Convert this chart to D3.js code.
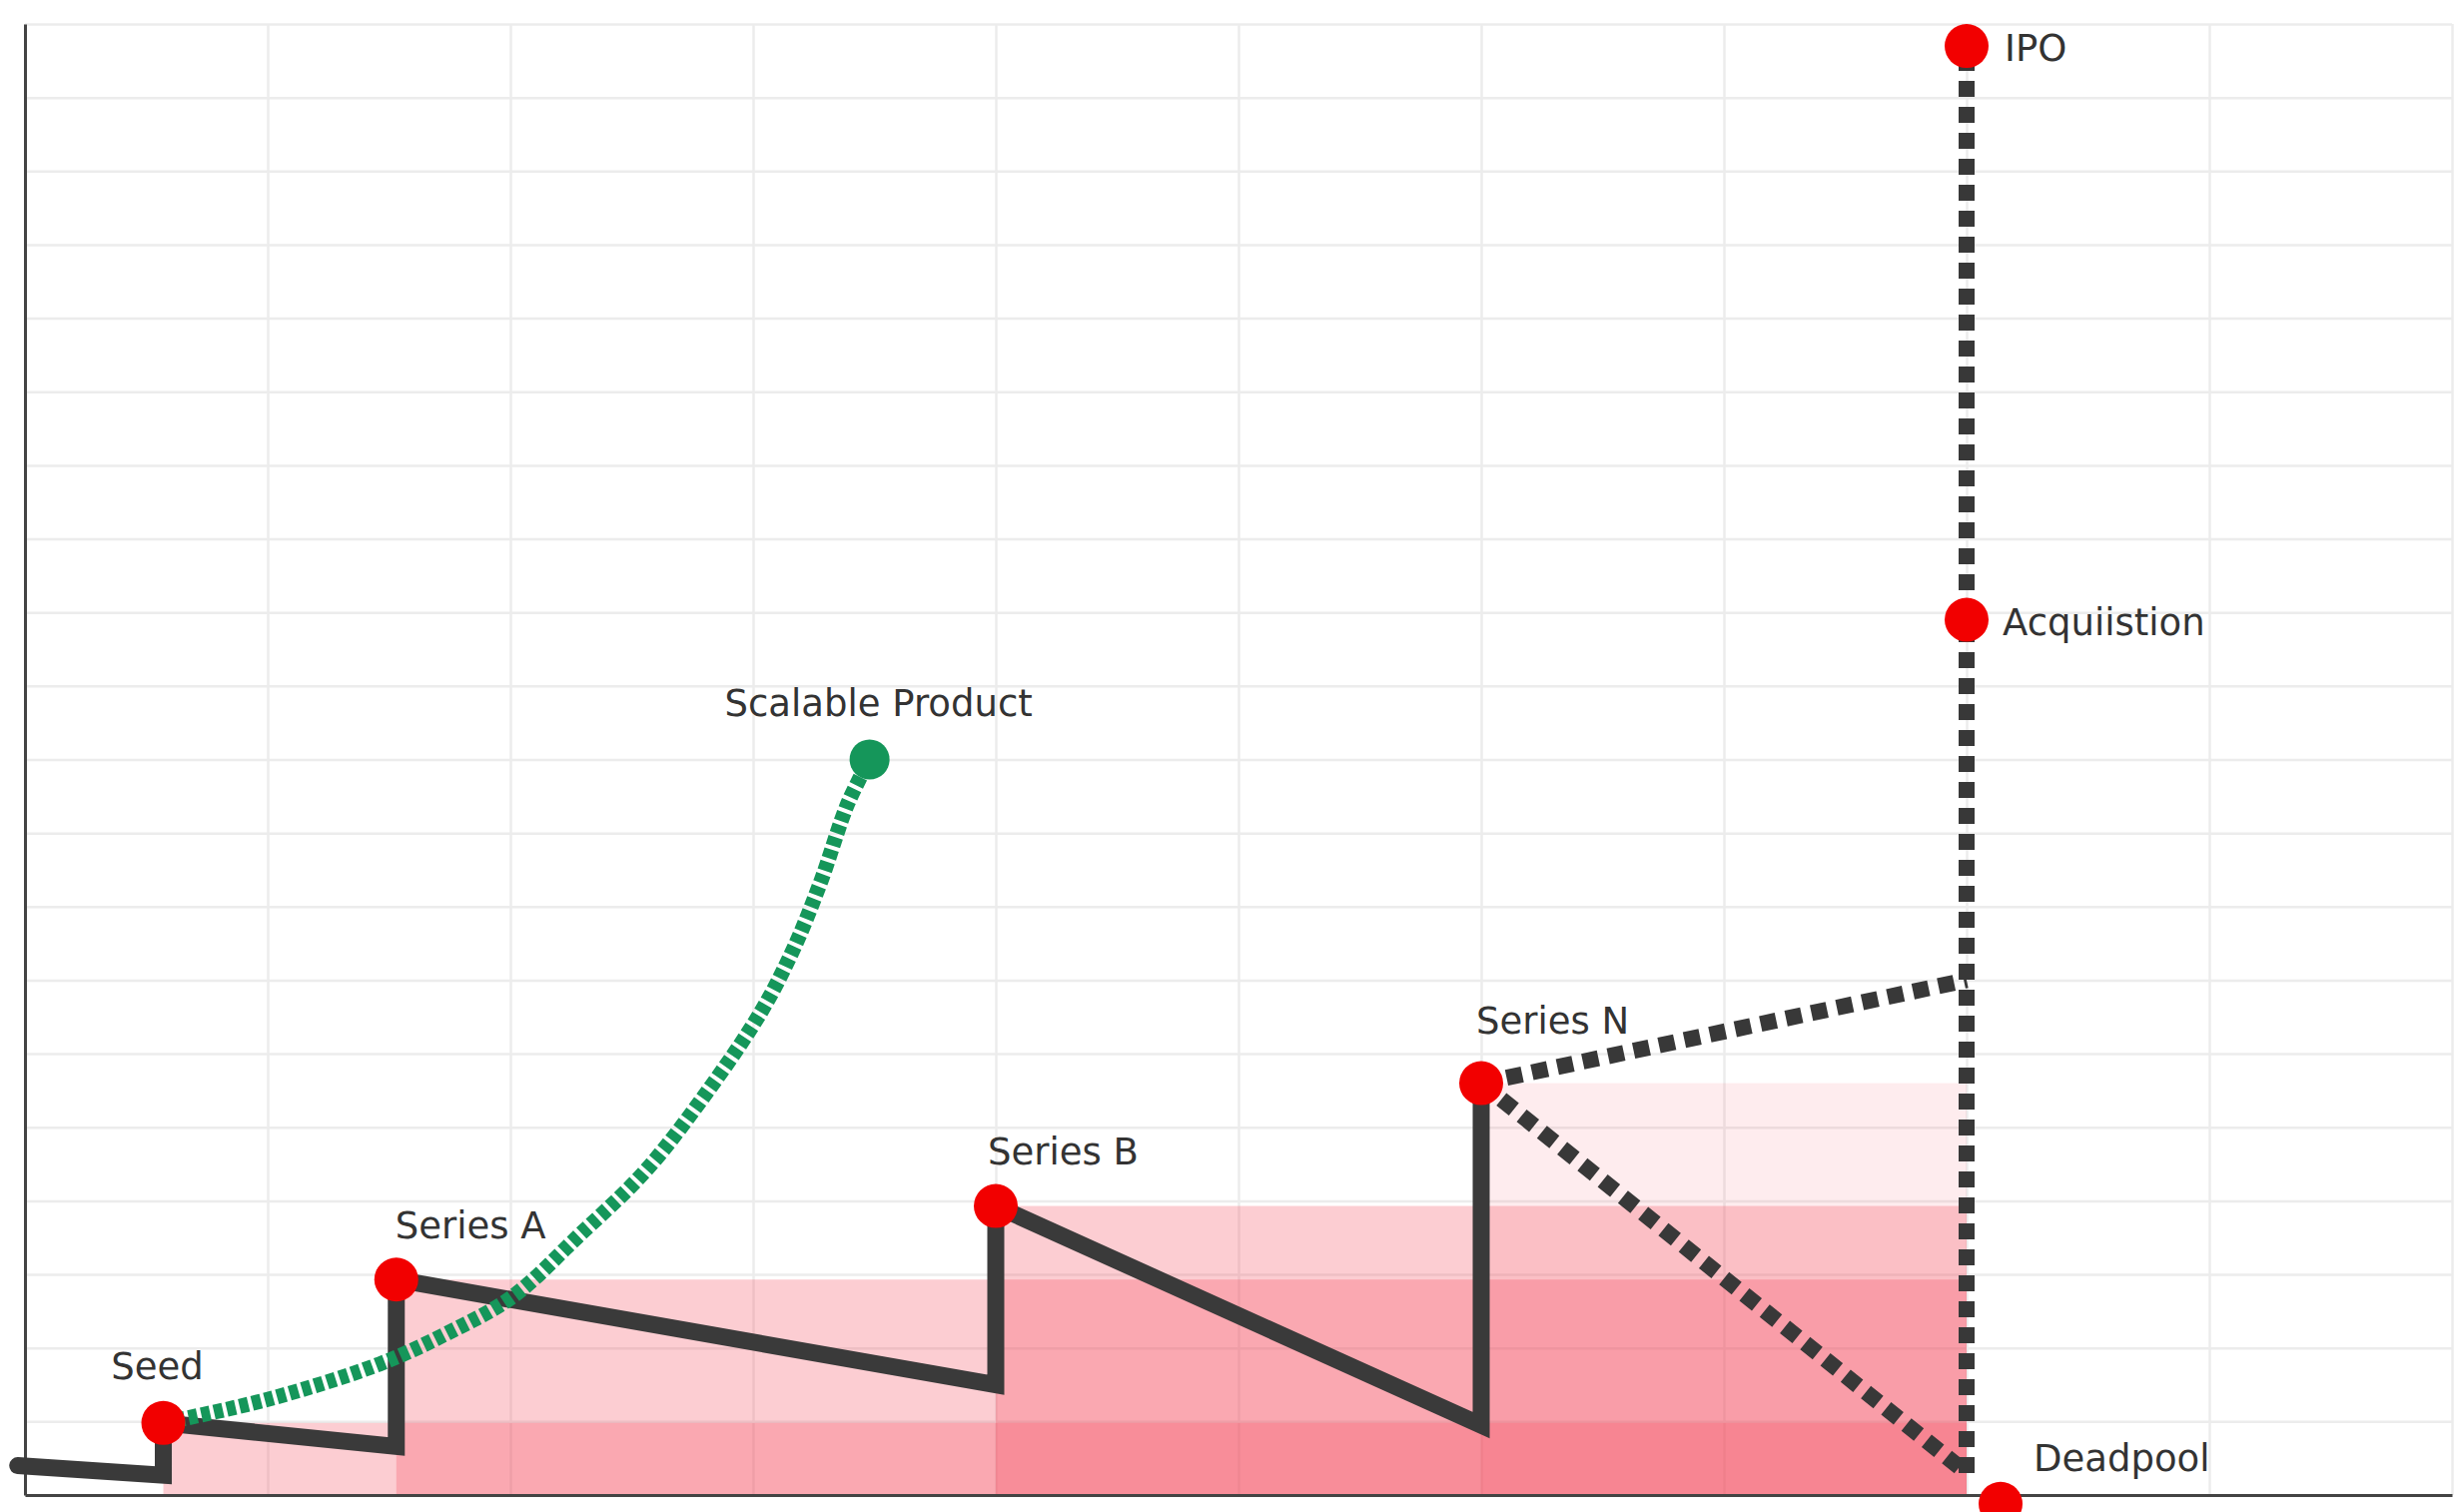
<!DOCTYPE html>
<html>
<head>
<meta charset="utf-8">
<script src="https://d3js.org/d3.v7.min.js"></script>
<style>
  html, body { margin: 0; padding: 0; background: #ffffff; }
  svg { display: block; }
  text { font-family: "DejaVu Sans", sans-serif; }
</style>
</head>
<body>
<script>
// ---------------- data ----------------
// funding rounds (x = time, y = valuation level)
const roundNames = ["Seed", "Series A", "Series B", "Series N"];
const roundX = [0.57, 1.53, 4.0, 6.0];
const roundY = [0.98, 2.93, 3.93, 5.6];
const roundFillOpacity = [0.27, 0.27, 0.27, 0.1];
// value each round decays to just before the next round
const burnX = [0.57, 1.53, 4.0, 6.0];
const burnY = [0.27, 0.66, 1.5, 0.95];
const startX = -0.03;
const startY = 0.4;

// exit outcomes on the exit line
const exitX = 8;
const exitNames = ["IPO", "Acquiistion", "Deadpool"];
const exitDotX = [8, 8, 8.14];
const exitDotY = [19.7, 11.9, -0.12];
const exitUpperEndY = 7.0;   // end of the dotted branch going up
const exitLowerEndY = 0.3;   // end of the dotted branch going down

// scalable product curve
const productLabel = "Scalable Product";
const productX = [0.57, 1.0, 1.46, 1.74, 2.01, 2.28, 2.56, 2.83, 3.04, 3.17, 3.28, 3.39, 3.48];
const productY = [0.98, 1.3, 1.78, 2.2, 2.7, 3.52, 4.42, 5.57, 6.61, 7.45, 8.35, 9.4, 10.0];

// axis / grid
const xDomain = [0, 10];
const yDomain = [0, 20];
const xTickCount = 10;
const yTickCount = 20;

// ---------------- layout ----------------
const W = 2458, H = 1514;
const pLeft = 25, pRight = 2455, pTop = 24, pBottom = 1497;

const svg = d3.select("body").append("svg")
  .attr("width", W).attr("height", H);

const x = d3.scaleLinear().domain(xDomain).range([pLeft, pRight]);
const y = d3.scaleLinear().domain(yDomain).range([pBottom, pTop]);

// grid
const grid = svg.append("g");
grid.append("g")
  .attr("transform", `translate(0,${pBottom})`)
  .call(d3.axisBottom(x).ticks(xTickCount).tickSize(-(pBottom - pTop)).tickFormat(""))
  .call(g => g.select(".domain").remove())
  .call(g => g.selectAll(".tick line").attr("stroke", "#ececec").attr("stroke-width", 2.5));
grid.append("g")
  .attr("transform", `translate(${pLeft},0)`)
  .call(d3.axisLeft(y).ticks(yTickCount).tickSize(-(pRight - pLeft)).tickFormat(""))
  .call(g => g.select(".domain").remove())
  .call(g => g.selectAll(".tick line").attr("stroke", "#ececec").attr("stroke-width", 2.5));

// shaded round rectangles
const rounds = roundNames.map((n, i) => ({ name: n, x: roundX[i], y: roundY[i], op: roundFillOpacity[i] }));
svg.append("g").selectAll("rect")
  .data(rounds)
  .join("rect")
  .attr("x", d => x(d.x))
  .attr("y", d => y(d.y))
  .attr("width", d => x(exitX) - x(d.x))
  .attr("height", d => y(0) - y(d.y))
  .attr("fill", "rgb(245,70,90)")
  .attr("fill-opacity", d => d.op);

// axes lines
svg.append("g")
  .attr("transform", `translate(0,${pBottom})`)
  .call(d3.axisBottom(x).tickValues([]).tickSizeOuter(0))
  .call(g => g.select(".domain").attr("stroke", "#444").attr("stroke-width", 3));
svg.append("g")
  .attr("transform", `translate(${pLeft},0)`)
  .call(d3.axisLeft(y).tickValues([]).tickSizeOuter(0))
  .call(g => g.select(".domain").attr("stroke", "#444").attr("stroke-width", 3));

const line = d3.line().x(d => x(d[0])).y(d => y(d[1]));

// exit dotted lines
const dotted = svg.append("g")
  .attr("fill", "none")
  .attr("stroke", "#383838")
  .attr("stroke-width", 16)
  .attr("stroke-dasharray", "16,10");
const nX = roundX[roundX.length - 1], nY = roundY[roundY.length - 1];
dotted.append("path").attr("d", line([[nX, nY], [exitX, exitUpperEndY]]));
dotted.append("path").attr("d", line([[nX, nY], [exitX, exitLowerEndY]]));
dotted.append("path").attr("d", line([[exitX, exitLowerEndY], [exitX, exitDotY[0]]]));

// main value path (solid)
const mainPts = [[startX, startY]];
roundX.forEach((v, i) => {
  mainPts.push([burnX[i], burnY[i]]);
  mainPts.push([v, roundY[i]]);
});
svg.append("path")
  .datum(mainPts)
  .attr("d", line)
  .attr("fill", "none")
  .attr("stroke", "#3a3a3a")
  .attr("stroke-width", 17)
  .attr("stroke-linecap", "round")
  .attr("stroke-linejoin", "miter");

// green scalable product curve (drawn over the black line)
const productPts = productX.map((v, i) => [v, productY[i]]);
svg.append("path")
  .datum(productPts)
  .attr("d", d3.line().x(d => x(d[0])).y(d => y(d[1])).curve(d3.curveCatmullRom.alpha(0.5)))
  .attr("fill", "none")
  .attr("stroke", "#15965a")
  .attr("stroke-width", 15)
  .attr("stroke-dasharray", "9,4");

// green end dot
svg.append("circle")
  .attr("cx", x(productX[productX.length - 1]))
  .attr("cy", y(productY[productY.length - 1]))
  .attr("r", 20)
  .attr("fill", "#15965a");

// red dots
const dots = rounds.map(d => ({ name: d.name, x: d.x, y: d.y }))
  .concat(exitNames.map((n, i) => ({ name: n, x: exitDotX[i], y: exitDotY[i] })));
svg.append("g").selectAll("circle")
  .data(dots)
  .join("circle")
  .attr("cx", d => x(d.x))
  .attr("cy", d => y(d.y))
  .attr("r", 22)
  .attr("fill", "#f20000");

// labels
const labelStyle = {
  "Seed": { anchor: "middle", dx: -6, dy: -44 },
  "Series A": { anchor: "start", dx: -1, dy: -41 },
  "Series B": { anchor: "start", dx: -8, dy: -42 },
  "Series N": { anchor: "start", dx: -5, dy: -50 },
  "IPO": { anchor: "start", dx: 38, dy: 15 },
  "Acquiistion": { anchor: "start", dx: 36, dy: 15 },
  "Deadpool": { anchor: "start", dx: 33, dy: -33 }
};
svg.append("g").selectAll("text")
  .data(dots)
  .join("text")
  .attr("x", d => x(d.x) + labelStyle[d.name].dx)
  .attr("y", d => y(d.y) + labelStyle[d.name].dy)
  .attr("text-anchor", d => labelStyle[d.name].anchor)
  .attr("font-size", 37)
  .attr("fill", "#333")
  .text(d => d.name);

svg.append("text")
  .attr("x", x(productX[productX.length - 1]) + 9)
  .attr("y", y(productY[productY.length - 1]) - 44)
  .attr("text-anchor", "middle")
  .attr("font-size", 37)
  .attr("fill", "#333")
  .text(productLabel);
</script>
</body>
</html>
